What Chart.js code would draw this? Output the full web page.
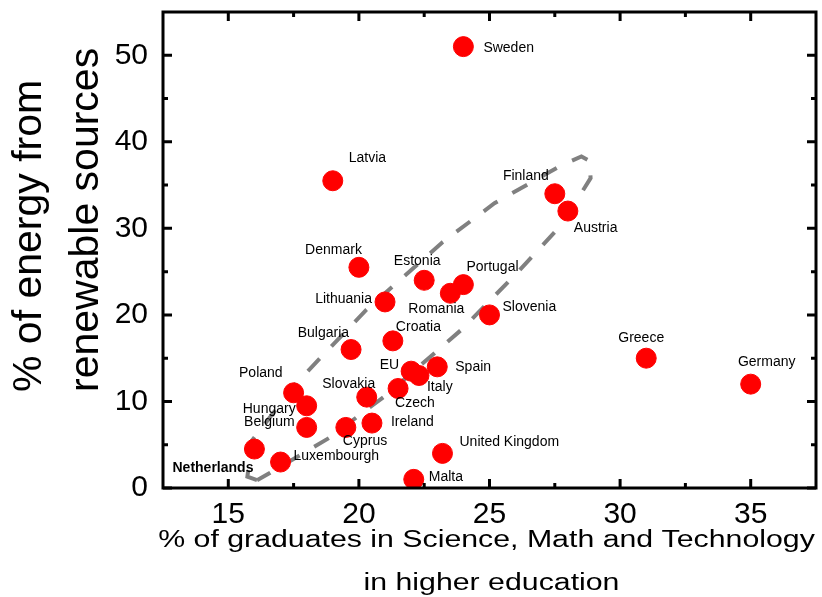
<!DOCTYPE html>
<html>
<head>
<meta charset="utf-8">
<script src="https://cdn.jsdelivr.net/npm/chart.js@4/dist/chart.umd.min.js"></script>
<style>
  body { margin: 0; background: #fff; }
  #wrap { width: 822px; height: 597px; }
</style>
</head>
<body>
<div id="wrap"><canvas id="chart"></canvas></div>
<script>
// Country values
const countries = [
  "Sweden", "Latvia", "Finland", "Austria", "Denmark", "Estonia", "Portugal",
  "Romania", "Lithuania", "Slovenia", "Croatia", "Bulgaria", "Spain", "EU",
  "Italy", "Czech", "Slovakia", "Poland", "Hungary", "Belgium", "Cyprus",
  "Ireland", "Netherlands", "Luxembourgh", "United Kingdom", "Malta",
  "Greece", "Germany",
];
// % of graduates in Science, Math and Technology
const graduates = [
  24, 19, 27.5, 28, 20, 22.5, 24,
  23.5, 21, 25, 21.3, 19.7, 23, 22,
  22.3, 21.5, 20.3, 17.5, 18, 18, 19.5,
  20.5, 16, 17, 23.2, 22.1,
  31, 35,
];
// % of energy from renewable sources
const renewables = [
  51, 35.5, 34, 32, 25.5, 24, 23.5,
  22.5, 21.5, 20, 17, 16, 14, 13.5,
  13, 11.5, 10.5, 11, 9.5, 7, 7,
  7.5, 4.5, 3, 4, 1,
  15, 12,
];

// dashed outline around the cluster
const outlineX = [16.1, 15.73, 15.92, 17.6, 20.29, 23.2, 25.19, 27.76, 28.52, 28.83, 28.87, 28.52, 27.57, 26.07, 23.93, 21.05, 18.87, 16.57, 16.1];
const outlineY = [0.9, 1.3, 5.55, 12.1, 20.6, 28.4, 32.9, 37.3, 38.3, 37.8, 35.8, 34.1, 29.8, 24.9, 18.3, 10.75, 5.8, 1.7, 0.9];

const xTickValues = [15, 20, 25, 30, 35];
const xMinorTicks = [17.5, 22.5, 27.5, 32.5];
const yTickValues = [0, 10, 20, 30, 40, 50];
const yMinorTicks = [5, 15, 25, 35, 45];

const xTitle = ["% of graduates in Science, Math and Technology", "in higher education"];
const yTitle = ["% of energy from", "renewable sources"];

// where each name sits next to its dot: [align, dx, dy] in px
const labelPlacement = {
  "Sweden": ["left", 20, 2],
  "Latvia": ["left", 16, -23],
  "Finland": ["right", -6, -18],
  "Austria": ["left", 6, 17],
  "Denmark": ["right", 3, -17],
  "Estonia": ["center", -7, -19],
  "Portugal": ["left", 3, -17],
  "Romania": ["center", -14, 16],
  "Lithuania": ["right", -13, -3],
  "Slovenia": ["left", 13, -8],
  "Croatia": ["left", 3, -14],
  "Bulgaria": ["right", -2, -16],
  "Spain": ["left", 18, 0],
  "EU": ["right", -12, -6],
  "Italy": ["left", 8, 12],
  "Czech": ["left", -3, 15],
  "Slovakia": ["center", -18, -13],
  "Poland": ["right", -11, -20],
  "Hungary": ["right", -11, 3],
  "Belgium": ["right", -12, -5],
  "Cyprus": ["left", -3, 14],
  "Ireland": ["left", 19, -1],
  "Netherlands": ["right", -1, 19],
  "Luxembourgh": ["left", 13, -6],
  "United Kingdom": ["left", 17, -11],
  "Malta": ["left", 15, -2],
  "Greece": ["center", -5, -20],
  "Germany": ["center", 16, -22],
};

const FONT = '"Liberation Sans", Arial, Helvetica, sans-serif';

const framePlugin = {
  id: "frameAndLabels",
  afterDatasetsDraw(chart) {
    const ctx = chart.ctx;
    const { left, right, top, bottom } = chart.chartArea;
    const xs = chart.scales.x, ys = chart.scales.y;

    // country names
    const meta = chart.getDatasetMeta(0);
    ctx.save();
    ctx.fillStyle = "#000";
    ctx.textBaseline = "middle";
    meta.data.forEach((pt, i) => {
      const name = countries[i];
      const [align, dx, dy] = labelPlacement[name];
      ctx.font = (name === "Netherlands" ? "bold " : "") + "14px " + FONT;
      ctx.textAlign = align;
      ctx.fillText(name, pt.x + dx, pt.y + dy);
    });
    ctx.restore();

    // box and inward ticks
    ctx.save();
    ctx.strokeStyle = "#000";
    ctx.lineWidth = 3;
    ctx.strokeRect(left, top, right - left, bottom - top);
    const tick = (vals, len) => {
      vals.forEach(v => {
        const px = xs.getPixelForValue(v);
        ctx.beginPath();
        ctx.moveTo(px, bottom); ctx.lineTo(px, bottom - len);
        ctx.moveTo(px, top); ctx.lineTo(px, top + len);
        ctx.stroke();
      });
    };
    const tickY = (vals, len) => {
      vals.forEach(v => {
        const py = ys.getPixelForValue(v);
        ctx.beginPath();
        ctx.moveTo(left, py); ctx.lineTo(left + len, py);
        ctx.moveTo(right, py); ctx.lineTo(right - len, py);
        ctx.stroke();
      });
    };
    tick(xTickValues, 9);
    tick(xMinorTicks, 5);
    tickY(yTickValues, 9);
    tickY(yMinorTicks, 5);
    ctx.restore();
  },
  afterDraw(chart) {
    const ctx = chart.ctx;
    const { left, right } = chart.chartArea;
    ctx.save();
    ctx.fillStyle = "#000";

    // y title: rotated, both lines start from the same point near the bottom
    ctx.save();
    ctx.translate(30, 392);
    ctx.rotate(-Math.PI / 2);
    ctx.font = "41px " + FONT;
    ctx.textAlign = "left";
    ctx.textBaseline = "middle";
    yTitle.forEach((line, i) => ctx.fillText(line, 0, i * 57));
    ctx.restore();

    // x title: the original lettering is wide and short
    ctx.font = "23.3px " + FONT;
    ctx.textAlign = "center";
    ctx.textBaseline = "alphabetic";
    const cx = (left + right) / 2 - 3;
    [547, 590].forEach((baseY, i) => {
      ctx.save();
      ctx.translate(cx + i * 5, baseY);
      ctx.scale(1.3, 1);
      ctx.fillText(xTitle[i], 0, 0);
      ctx.restore();
    });
    ctx.restore();
  },
};

// stop tick labels from pushing the plot box inwards
const noLabelPadding = (s) => {
  s.paddingTop = 0;
  s.paddingBottom = 0;
  s.paddingLeft = 0;
  s.paddingRight = 0;
};

new Chart(document.getElementById("chart"), {
  data: {
    datasets: [
      {
        type: "scatter",
        data: graduates.map((g, i) => ({ x: g, y: renewables[i] })),
        backgroundColor: "#ff0000",
        borderColor: "#ff0000",
        pointRadius: 10,
        pointHoverRadius: 10,
      },
      {
        type: "line",
        data: outlineX.map((x, i) => ({ x: x, y: outlineY[i] })),
        borderColor: "#808080",
        borderWidth: 4,
        borderDash: [17, 17],
        pointRadius: 0,
        tension: 0,
        fill: false,
      },
    ],
  },
  options: {
    responsive: true,
    maintainAspectRatio: false,
    animation: false,
    layout: { autoPadding: false, padding: { left: 0, right: 6, top: 12, bottom: 0 } },
    plugins: { legend: { display: false }, tooltip: { enabled: false } },
    scales: {
      x: {
        type: "linear",
        min: 12.5,
        max: 37.5,
        afterBuildTicks: (s) => { s.ticks = xTickValues.map(v => ({ value: v })); },
        afterFit: (s) => { s.height = 109; noLabelPadding(s); },
        grid: { display: false, drawTicks: false },
        border: { display: false },
        ticks: { color: "#000", padding: 9, font: { family: FONT, size: 30 } },
      },
      y: {
        type: "linear",
        min: 0,
        max: 55,
        afterBuildTicks: (s) => { s.ticks = yTickValues.map(v => ({ value: v })); },
        afterFit: (s) => { s.width = 163; noLabelPadding(s); },
        grid: { display: false, drawTicks: false },
        border: { display: false },
        ticks: { color: "#000", padding: 15, font: { family: FONT, size: 30 } },
      },
    },
  },
  plugins: [framePlugin],
});
</script>
</body>
</html>
